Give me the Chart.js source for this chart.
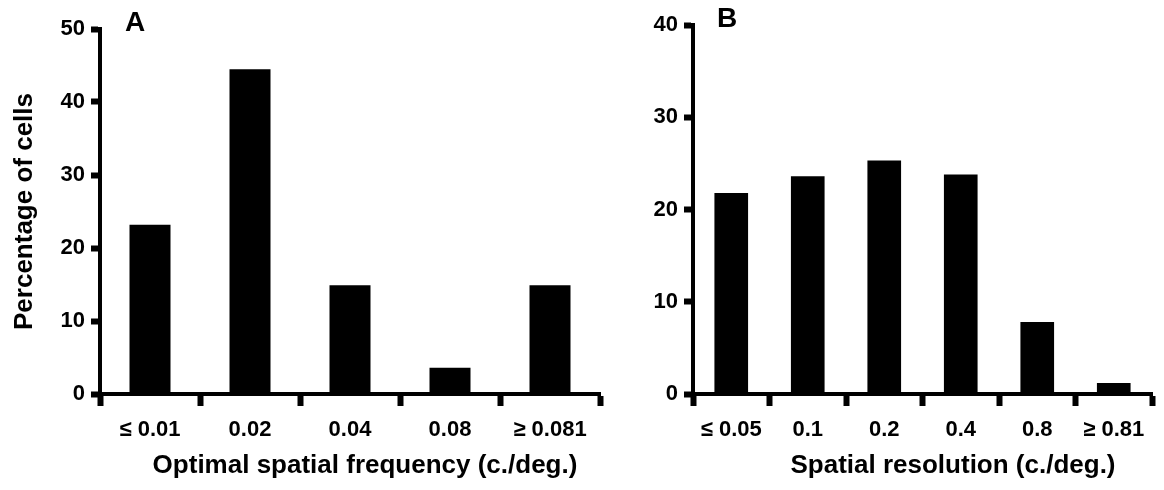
<!DOCTYPE html>
<html>
<head>
<meta charset="utf-8">
<script src="https://cdn.jsdelivr.net/npm/chart.js@4/dist/chart.umd.min.js"></script>
<style>
  body { margin: 0; background: #fff; }
  #wrap { position: relative; width: 1164px; height: 490px; }
  canvas { position: absolute; top: 0; }
</style>
</head>
<body>
<div id="wrap">
  <canvas id="chartA" width="620" height="490" style="left:0"></canvas>
  <canvas id="chartB" width="544" height="490" style="left:620px"></canvas>
</div>
<script>
// Painel A - frequência espacial ótima
const categoriesA = ['≤ 0.01', '0.02', '0.04', '0.08', '≥ 0.081'];
const valuesA = [23.2, 44.5, 14.9, 3.6, 14.9];
const ticksA = [0, 10, 20, 30, 40, 50];

// Painel B - resolução espacial
const categoriesB = ['≤ 0.05', '0.1', '0.2', '0.4', '0.8', '≥ 0.81'];
const valuesB = [21.8, 23.6, 25.3, 23.8, 7.8, 1.2];
const ticksB = [0, 10, 20, 30, 40];

const FONT = "'Liberation Sans', Arial, sans-serif";

// desenha a letra do painel e o título do eixo x
const panelText = {
    id: 'panelText',
    afterDraw(chart, args, opts) {
        const ctx = chart.ctx;
        ctx.save();
        ctx.fillStyle = '#000';
        ctx.textAlign = 'center';
        ctx.textBaseline = 'middle';
        ctx.font = 'bold 28px ' + FONT;
        ctx.fillText(opts.letter, opts.letterX, opts.letterY);
        ctx.font = 'bold 26px ' + FONT;
        ctx.fillText(opts.xTitle, opts.xTitleX, opts.xTitleY);
        ctx.restore();
    }
};

function makeChart(id, labels, values, yTicks, cfg) {
    return new Chart(document.getElementById(id), {
        type: 'bar',
        data: {
            labels: labels,
            datasets: [{
                data: values,
                backgroundColor: '#000',
                borderWidth: 0,
                categoryPercentage: 1,
                barPercentage: cfg.barPct
            }]
        },
        options: {
            responsive: false,
            animation: false,
            layout: { padding: cfg.padding },
            plugins: {
                legend: { display: false },
                tooltip: { enabled: false },
                panelText: cfg.text
            },
            scales: {
                x: {
                    offset: true,
                    grid: {
                        offset: true,
                        drawOnChartArea: false,
                        tickLength: 12,
                        tickWidth: 6,
                        tickColor: '#000'
                    },
                    border: { display: true, width: 4, color: '#000' },
                    ticks: {
                        color: '#000',
                        padding: 11,
                        maxRotation: 0,
                        autoSkip: false,
                        font: { family: FONT, size: 22, weight: 'bold' }
                    },
                    afterFit(scale) { scale.height = cfg.xHeight; }
                },
                y: {
                    min: 0,
                    max: yTicks[yTicks.length - 1],
                    afterBuildTicks(scale) { scale.ticks = yTicks.map(v => ({ value: v })); },
                    grid: {
                        drawOnChartArea: false,
                        tickLength: 9,
                        tickWidth: 6,
                        tickColor: '#000'
                    },
                    border: { display: true, width: 4, color: '#000' },
                    ticks: {
                        color: '#000',
                        padding: 6,
                        font: { family: FONT, size: 22, weight: 'bold' }
                    },
                    title: cfg.yTitle,
                    afterFit(scale) { scale.width = cfg.yWidth; }
                }
            }
        },
        plugins: [panelText]
    });
}

makeChart('chartA', categoriesA, valuesA, ticksA, {
    barPct: 0.41,
    padding: { left: 0, right: 20, top: 29, bottom: 0 },
    xHeight: 96,
    yWidth: 100,
    yTitle: {
        display: true,
        text: 'Percentage of cells',
        color: '#000',
        padding: { top: 9, bottom: 0 },
        font: { family: FONT, size: 26, weight: 'bold' }
    },
    text: {
        letter: 'A', letterX: 135, letterY: 23,
        xTitle: 'Optimal spatial frequency (c./deg.)', xTitleX: 365, xTitleY: 466
    }
});

makeChart('chartB', categoriesB, valuesB, ticksB, {
    barPct: 0.44,
    padding: { left: 0, right: 12, top: 25, bottom: 0 },
    xHeight: 96,
    yWidth: 73,
    yTitle: { display: false },
    text: {
        letter: 'B', letterX: 107, letterY: 19,
        xTitle: 'Spatial resolution (c./deg.)', xTitleX: 333, xTitleY: 466
    }
});
</script>
</body>
</html>
